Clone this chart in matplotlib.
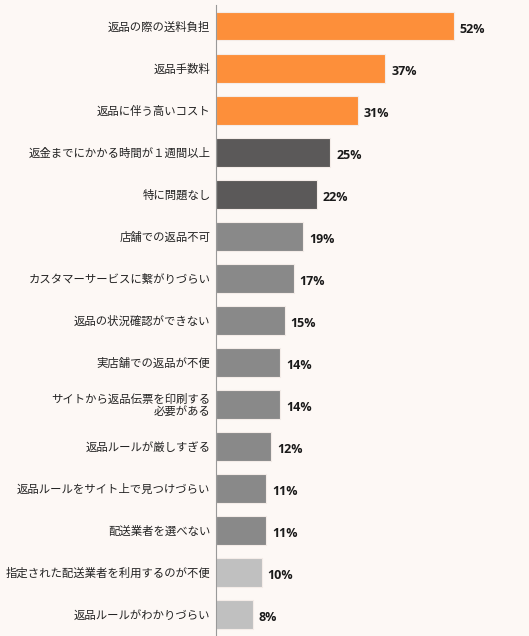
import numpy as np
import matplotlib
matplotlib.use("Agg")
import matplotlib.pyplot as plt

plt.rcParams['font.family'] = ['Noto Sans CJK JP', 'DejaVu Sans']

# データ
categories = ["返品の際の送料負担", "返品手数料", "返品に伴う高いコスト",
              "返金までにかかる時間が１週間以上", "特に問題なし", "店舗での返品不可",
              "カスタマーサービスに繋がりづらい", "返品の状況確認ができない",
              "実店舗での返品が不便", "サイトから返品伝票を印刷する\n必要がある",
              "返品ルールが厳しすぎる", "返品ルールをサイト上で見つけづらい",
              "配送業者を選べない", "指定された配送業者を利用するのが不便",
              "返品ルールがわかりづらい"]
values = [52, 37, 31, 25, 22, 19, 17, 15, 14, 14, 12, 11, 11, 10, 8]
groups = ["top", "top", "top", "dark", "dark", "mid", "mid", "mid", "mid",
          "mid", "mid", "mid", "mid", "light", "light"]

palette = {"top": "#fd8f3a", "dark": "#5b5959", "mid": "#898989", "light": "#c0c0c0"}
bg = "#fdf8f5"

fig = plt.figure(figsize=(5.29, 6.36), dpi=100, facecolor=bg)
ax = fig.add_axes([216 / 529, 0, 1 - 216 / 529, 631 / 636])
ax.set_facecolor(bg)

y = np.arange(len(categories))
colors = [palette[g] for g in groups]
bars = ax.barh(y, values, height=0.69, color=colors, edgecolor="#f4ece8", linewidth=0.8)

# 数値ラベル
for yi, v in zip(y, values):
    ax.text(v + 1.3, yi + 0.08, f"{v}%", va="center", ha="left",
            fontsize=9, fontweight="bold", color="#1a1a1a",
            family=["Open Sans", "DejaVu Sans"])

ax.set_xlim(0, 68.4)
ax.set_ylim(14.52, -0.5)
ax.set_yticks(y)
ax.set_yticklabels(categories, fontsize=8.2, color="#222222", linespacing=1.1)
ax.tick_params(axis='y', length=0, pad=4)
ax.tick_params(axis='x', bottom=False, labelbottom=False)

for s in ["top", "right", "bottom"]:
    ax.spines[s].set_visible(False)
ax.spines["left"].set_color("#999999")
ax.spines["left"].set_linewidth(0.8)

fig.savefig("out.png", dpi=100, facecolor=bg)
